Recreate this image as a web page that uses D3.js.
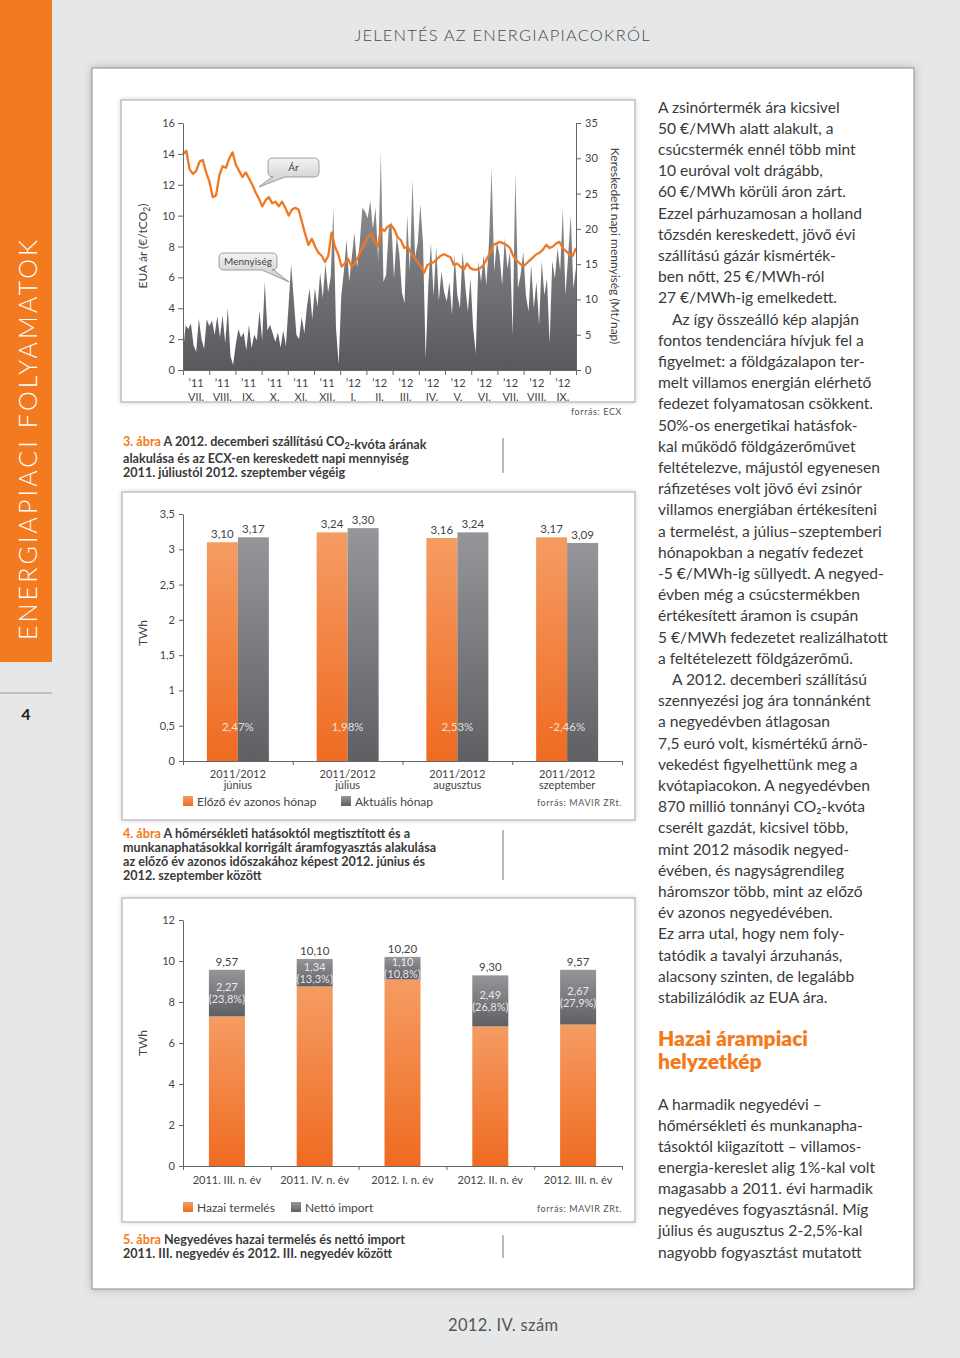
<!DOCTYPE html>
<html>
<head>
<meta charset="utf-8">
<script src="https://cdn.jsdelivr.net/npm/d3@7"></script>
<style>
  body { margin: 0; background: #e6e7e8; }
  svg { display: block; font-family: Lato, "Noto Sans", sans-serif; }
  .axis path, .axis line { stroke: #666; }
  .axis text { fill: #444; font-size: 11px; font-family: Lato, "Noto Sans", sans-serif; }
</style>
</head>
<body>
<svg id="page" width="960" height="1358"></svg>
<script>
// ---------- 3. ábra: EUA price and ECX daily volume ----------
var months = ["VII.", "VIII.", "IX.", "X.", "XI.", "XII.", "I.", "II.", "III.", "IV.", "V.", "VI.", "VII.", "VIII.", "IX."];
var monthYears = ["’11", "’11", "’11", "’11", "’11", "’11", "’12", "’12", "’12", "’12", "’12", "’12", "’12", "’12", "’12"];
var euaTicks = [0, 2, 4, 6, 8, 10, 12, 14, 16];
var volTicks = [0, 5, 10, 15, 20, 25, 30, 35];

// traded volume, Mt/nap (read roughly every other trading day)
var volumeByMonth = [
  [2.6, 6.3, 5.8, 6.6, 3.5, 2.6, 7.3, 4.4, 3.0, 7.2],
  [6.2, 7.0, 5.0, 7.6, 4.6, 7.8, 3.8, 8.8, 2.0, 0.7],
  [3.6, 5.8, 4.6, 5.3, 2.8, 6.4, 3.1, 5.0, 4.2, 8.4],
  [4.2, 12.5, 5.6, 6.4, 5.2, 4.0, 5.3, 3.2, 5.6, 3.4],
  [9.0, 15.0, 10.0, 5.0, 4.4, 7.5, 5.2, 9.0, 11.6, 7.2],
  [11.6, 9.0, 13.8, 10.2, 15.1, 11.0, 13.2, 23.0, 6.0, 0.8],
  [10.5, 14.0, 18.5, 12.5, 16.0, 19.5, 14.5, 18.0, 23.0, 22.5],
  [21.5, 24.0, 20.0, 23.0, 15.5, 31.0, 12.5, 13.5, 20.0, 21.0],
  [13.0, 19.0, 16.5, 11.0, 9.5, 22.0, 14.0, 27.0, 16.0, 18.0],
  [23.5, 18.0, 1.6, 12.0, 18.0, 10.5, 17.5, 9.8, 14.0, 11.0],
  [9.7, 12.5, 7.8, 16.3, 10.6, 8.8, 16.8, 12.0, 8.3, 13.0],
  [6.0, 2.4, 15.4, 12.5, 16.3, 12.0, 18.0, 28.6, 14.0, 18.2],
  [16.3, 12.0, 18.7, 14.4, 16.8, 5.0, 28.1, 11.6, 13.5, 16.8],
  [10.6, 8.3, 14.9, 8.8, 12.5, 6.4, 15.4, 10.6, 13.0, 3.8],
  [15.4, 13.0, 17.3, 14.0, 22.9, 10.6, 16.0, 22.0, 11.6, 14.5]
];

// EUA Dec-12 price, €/tCO2
var priceByMonth = [
  [14.0, 14.2, 13.0, 12.7, 12.9, 13.5, 13.6, 12.8],
  [12.2, 11.2, 11.3, 12.6, 13.2, 13.1, 13.7, 14.1],
  [13.3, 12.9, 12.5, 12.8, 12.4, 12.0, 11.5, 11.1],
  [10.6, 11.0, 11.2, 10.8, 10.9, 10.6, 10.9, 10.5],
  [10.0, 10.4, 10.5, 10.4, 9.6, 8.8, 8.1, 8.5],
  [8.0, 7.6, 7.4, 7.0, 7.4, 8.9, 8.0, 7.5],
  [6.7, 6.9, 7.2, 6.7, 6.9, 7.3, 7.8, 8.2],
  [8.6, 8.8, 8.3, 8.0, 9.2, 9.0, 9.3, 9.4],
  [9.1, 8.6, 8.4, 7.9, 8.0, 7.6, 7.3, 7.0],
  [6.7, 6.3, 6.8, 6.9, 7.0, 7.2, 7.4, 7.5],
  [7.4, 7.3, 6.8, 6.9, 6.7, 6.5, 6.9, 6.6],
  [6.5, 6.5, 6.6, 6.8, 7.2, 7.6, 8.1, 8.2],
  [8.3, 8.2, 8.1, 7.9, 7.4, 7.1, 6.9, 6.7],
  [6.9, 7.1, 7.3, 7.5, 7.6, 7.8, 8.1, 7.9],
  [8.0, 8.2, 8.3, 7.9, 7.7, 7.5, 7.4, 7.9]
];

// ---------- 4. ábra: monthly consumption ----------
var c4Prefix = "2011/2012";
var c4Months = ["június", "július", "augusztus", "szeptember"];
var c4Prev = [3.10, 3.24, 3.16, 3.17];
var c4Curr = [3.17, 3.30, 3.24, 3.09];
var c4Change = ["2,47%", "1,98%", "2,53%", "-2,46%"];
var c4Ticks = [0, 0.5, 1, 1.5, 2, 2.5, 3, 3.5];

// ---------- 5. ábra: quarterly production and net import ----------
var quarters = ["2011. III. n. év", "2011. IV. n. év", "2012. I. n. év", "2012. II. n. év", "2012. III. n. év"];
var domestic = [7.30, 8.76, 9.10, 6.81, 6.90];
var netImport = [2.27, 1.34, 1.10, 2.49, 2.67];
var importShare = ["23,8%", "13,3%", "10,8%", "26,8%", "27,9%"];
var c5Ticks = [0, 2, 4, 6, 8, 10, 12];

// ---------- right column text ----------
var bodyText1 = [
  "A zsinórtermék ára kicsivel", "50 €/MWh alatt alakult, a", "csúcstermék ennél több mint",
  "10 euróval volt drágább,", "60 €/MWh körüli áron zárt.", "Ezzel párhuzamosan a holland",
  "tőzsdén kereskedett, jövő évi", "szállítású gázár kismérték-", "ben nőtt, 25 €/MWh-ról",
  "27 €/MWh-ig emelkedett.", "\tAz így összeálló kép alapján", "fontos tendenciára hívjuk fel a",
  "figyelmet: a földgázalapon ter-", "melt villamos energián elérhető", "fedezet folyamatosan csökkent.",
  "50%-os energetikai hatásfok-", "kal működő földgázerőművet", "feltételezve, májustól egyenesen",
  "ráfizetéses volt jövő évi zsinór", "villamos energiában értékesíteni", "a termelést, a július–szeptemberi",
  "hónapokban a negatív fedezet", "-5 €/MWh-ig süllyedt. A negyed-", "évben még a csúcstermékben",
  "értékesített áramon is csupán", "5 €/MWh fedezetet realizálhatott", "a feltételezett földgázerőmű.",
  "\tA 2012. decemberi szállítású", "szennyezési jog ára tonnánként", "a negyedévben átlagosan",
  "7,5 euró volt, kismértékű árnö-", "vekedést figyelhettünk meg a", "kvótapiacokon. A negyedévben",
  "870 millió tonnányi CO₂-kvóta", "cserélt gazdát, kicsivel több,", "mint 2012 második negyed-",
  "évében, és nagyságrendileg", "háromszor több, mint az előző", "év azonos negyedévében.",
  "Ez arra utal, hogy nem foly-", "tatódik a tavalyi árzuhanás,", "alacsony szinten, de legalább",
  "stabilizálódik az EUA ára."
];
var headingText = ["Hazai árampiaci", "helyzetkép"];
var bodyText2 = [
  "A harmadik negyedévi –", "hőmérsékleti és munkanapha-", "tásoktól kiigazított – villamos-",
  "energia-kereslet alig 1%-kal volt", "magasabb a 2011. évi harmadik", "negyedéves fogyasztásnál. Míg",
  "július és augusztus 2-2,5%-kal", "nagyobb fogyasztást mutatott"
];

var ORANGE = "#f47a20";
var huLocale = d3.formatLocale({decimal: ",", thousands: " ", grouping: [3], currency: ["", " €"]});
var fmt2 = huLocale.format(".2f");
var fmtTick = huLocale.format("~g");

var svg = d3.select("#page");
var defs = svg.append("defs");

function vGrad(id, c0, c1) {
  var g = defs.append("linearGradient").attr("id", id)
    .attr("x1", 0).attr("y1", 0).attr("x2", 0).attr("y2", 1);
  g.append("stop").attr("offset", "0%").attr("stop-color", c0);
  g.append("stop").attr("offset", "100%").attr("stop-color", c1);
}
vGrad("orangeBar", "#f59c63", "#ef6b21");
vGrad("greyBar", "#959699", "#5f6063");
vGrad("volFill", "#9a9b9e", "#58595c");
vGrad("bubble", "#f3f3f3", "#c8c8c8");

var sh = defs.append("filter").attr("id", "panelShadow")
  .attr("x", "-5%").attr("y", "-5%").attr("width", "110%").attr("height", "110%");
sh.append("feDropShadow").attr("dx", 0).attr("dy", 0).attr("stdDeviation", 5)
  .attr("flood-color", "#000").attr("flood-opacity", 0.22);
var sh2 = defs.append("filter").attr("id", "boxShadow")
  .attr("x", "-5%").attr("y", "-5%").attr("width", "110%").attr("height", "110%");
sh2.append("feDropShadow").attr("dx", 0).attr("dy", 0).attr("stdDeviation", 2.5)
  .attr("flood-color", "#000").attr("flood-opacity", 0.18);

// ---------- page furniture ----------
svg.append("rect").attr("width", 960).attr("height", 1358).attr("fill", "#e6e7e8");
svg.append("rect").attr("x", 0).attr("y", 0).attr("width", 52).attr("height", 662).attr("fill", ORANGE);
svg.append("text")
  .attr("transform", "translate(37,440) rotate(-90)")
  .attr("text-anchor", "middle")
  .attr("fill", "#fff").attr("font-size", 25).attr("font-weight", 300)
  .attr("textLength", 400).attr("lengthAdjust", "spacing")
  .text("ENERGIAPIACI FOLYAMATOK");
svg.append("line").attr("x1", 0).attr("x2", 52).attr("y1", 693).attr("y2", 693)
  .attr("stroke", "#9b9b9b").attr("stroke-width", 1);
svg.append("text").attr("x", 26).attr("y", 720).attr("text-anchor", "middle")
  .attr("font-size", 16).attr("font-weight", 700).attr("fill", "#222").text("4");

svg.append("text").attr("x", 502).attr("y", 41).attr("text-anchor", "middle")
  .attr("font-size", 16.5).attr("fill", "#4a4a4a").attr("font-weight", 300)
  .attr("textLength", 295).attr("lengthAdjust", "spacing")
  .text("JELENTÉS AZ ENERGIAPIACOKRÓL");

svg.append("rect").attr("x", 92).attr("y", 68).attr("width", 822).attr("height", 1221)
  .attr("fill", "#fff").attr("stroke", "#8c8c8c").attr("filter", "url(#panelShadow)");

svg.append("text").attr("x", 503).attr("y", 1331).attr("text-anchor", "middle")
  .attr("font-size", 16.5).attr("fill", "#555")
  .attr("textLength", 110).attr("lengthAdjust", "spacing")
  .text("2012. IV. szám");

// chart frames
[[121, 100, 514, 302], [122, 492, 513, 328], [122, 898, 513, 324]].forEach(function(b) {
  svg.append("rect").attr("x", b[0]).attr("y", b[1]).attr("width", b[2]).attr("height", b[3])
    .attr("fill", "#fff").attr("stroke", "#a3a3a3").attr("filter", "url(#boxShadow)");
});

function styleAxis(g) {
  g.attr("class", "axis");
  g.selectAll("path").attr("stroke", "#666");
  g.selectAll("line").attr("stroke", "#666");
  return g;
}

function caption(x, y, lines, number) {
  var t = svg.append("text").attr("x", x).attr("y", y)
    .attr("font-size", 12.6).attr("font-weight", 700).attr("fill", "#3a3a3a");
  lines.forEach(function(line, i) {
    var ts = t.append("tspan").attr("x", x).attr("dy", i === 0 ? 0 : 14);
    if (i === 0) {
      ts.append("tspan").attr("fill", ORANGE).text(number + " ");
    }
    var parts = Array.isArray(line) ? line : [line];
    parts.forEach(function(part) {
      if (typeof part === "object") {
        ts.append("tspan").attr("dy", 3).attr("font-size", 9).text(part.sub);
        ts.append("tspan").attr("dy", -3).text("");
      } else {
        ts.append("tspan").text(part);
      }
    });
  });
}
function divider(y1, y2) {
  svg.append("line").attr("x1", 503).attr("x2", 503).attr("y1", y1).attr("y2", y2)
    .attr("stroke", "#777").attr("stroke-width", 1);
}

// ---------- chart 3 ----------
var c3 = svg.append("g");
var xM = d3.scaleLinear().domain([0, months.length]).range([183, 576]);
var yEua = d3.scaleLinear().domain([0, 16]).range([370, 123]);
var yVol = d3.scaleLinear().domain([0, 35]).range([370, 123]);
var volFlat = d3.merge(volumeByMonth);
var priceFlat = d3.merge(priceByMonth);
var xVol = d3.scaleLinear().domain([0, volFlat.length - 1]).range(xM.range());
var xPrice = d3.scaleLinear().domain([0, priceFlat.length - 1]).range(xM.range());

c3.append("path").datum(volFlat)
  .attr("d", d3.area().x(function(d, i) { return xVol(i); }).y0(yVol(0)).y1(function(d) { return yVol(d); }))
  .attr("fill", "url(#volFill)");
c3.append("path").datum(priceFlat)
  .attr("d", d3.line().x(function(d, i) { return xPrice(i); }).y(function(d) { return yEua(d); }))
  .attr("fill", "none").attr("stroke", "#f07822").attr("stroke-width", 2.3)
  .attr("stroke-linejoin", "round");

styleAxis(c3.append("g").attr("transform", "translate(183,0)")
  .call(d3.axisLeft(yEua).tickValues(euaTicks).tickSize(5).tickSizeOuter(0).tickPadding(3)));
styleAxis(c3.append("g").attr("transform", "translate(576,0)")
  .call(d3.axisRight(yVol).tickValues(volTicks).tickSize(5).tickSizeOuter(0).tickPadding(4)));
styleAxis(c3.append("g").attr("transform", "translate(0,370)")
  .call(d3.axisBottom(xM).tickValues(d3.range(0, months.length + 1)).tickSize(5).tickSizeOuter(0).tickFormat("")));

var ml = c3.append("g").attr("font-size", 11).attr("fill", "#444").attr("text-anchor", "middle")
  .selectAll("g").data(months).join("g")
  .attr("transform", function(d, i) { return "translate(" + xM(i + 0.5) + ",0)"; });
ml.append("text").attr("y", 387).text(function(d, i) { return monthYears[i]; });
ml.append("text").attr("y", 401).text(function(d) { return d; });

var leftTitle = c3.append("text").attr("transform", "translate(147,246) rotate(-90)")
  .attr("text-anchor", "middle").attr("font-size", 12).attr("fill", "#444");
leftTitle.append("tspan").text("EUA ár (€/tCO");
leftTitle.append("tspan").attr("font-size", 8.5).attr("dy", 3).text("2");
leftTitle.append("tspan").attr("dy", -3).text(")");

c3.append("text").attr("transform", "translate(611,246) rotate(90)")
  .attr("text-anchor", "middle").attr("font-size", 12).attr("fill", "#444")
  .text("Kereskedett napi mennyiség (Mt/nap)");

c3.append("text").attr("x", 622).attr("y", 415).attr("text-anchor", "end")
  .attr("font-size", 9).attr("letter-spacing", 0.6).attr("fill", "#555").text("forrás: ECX");

function bubble(x, y, w, h, b1, b2, tx, ty, label) {
  var r = 5;
  var p = "M" + (x + r) + "," + y + "H" + (x + w - r) + "Q" + (x + w) + "," + y + " " + (x + w) + "," + (y + r) +
    "V" + (y + h - r) + "Q" + (x + w) + "," + (y + h) + " " + (x + w - r) + "," + (y + h) +
    "H" + b2 + "L" + tx + "," + ty + "L" + b1 + "," + (y + h) +
    "H" + (x + r) + "Q" + x + "," + (y + h) + " " + x + "," + (y + h - r) +
    "V" + (y + r) + "Q" + x + "," + y + " " + (x + r) + "," + y + "Z";
  c3.append("path").attr("d", p).attr("fill", "url(#bubble)").attr("stroke", "#8a8a8a").attr("stroke-width", 0.8);
  c3.append("text").attr("x", x + w / 2).attr("y", y + h / 2 + 3.5).attr("text-anchor", "middle")
    .attr("font-size", 10).attr("fill", "#444").text(label);
}
bubble(268, 158, 51, 19, 272, 285, 259, 187, "Ár");
bubble(219, 253, 58, 17, 262, 274, 289, 282, "Mennyiség");

caption(123, 446, [
  ["A 2012. decemberi szállítású CO", {sub: "2"}, "-kvóta árának"],
  "alakulása és az ECX-en kereskedett napi mennyiség",
  "2011. júliustól 2012. szeptember végéig"
], "3. ábra");
divider(438, 473);

// ---------- chart 4 ----------
var c4 = svg.append("g");
var x4 = d3.scaleBand().domain(c4Months).range([183, 622]);
var x4s = d3.scaleBand().domain([0, 1]).range([0, x4.bandwidth()]).paddingOuter(0.77);
var x4Ticks = d3.scaleLinear().domain([0, c4Months.length]).range(x4.range());
var y4 = d3.scaleLinear().domain([0, 3.5]).range([761, 514]);

var groups4 = c4.selectAll("g.grp").data(c4Months).join("g").attr("class", "grp")
  .attr("transform", function(d) { return "translate(" + x4(d) + ",0)"; });
groups4.each(function(d, i) {
  var g = d3.select(this);
  var vals = [c4Prev[i], c4Curr[i]];
  g.selectAll("rect").data(vals).join("rect")
    .attr("x", function(v, j) { return x4s(j); })
    .attr("width", x4s.bandwidth())
    .attr("y", function(v) { return y4(v); })
    .attr("height", function(v) { return y4(0) - y4(v); })
    .attr("fill", function(v, j) { return j === 0 ? "url(#orangeBar)" : "url(#greyBar)"; });
  g.selectAll("text.val").data(vals).join("text").attr("class", "val")
    .attr("x", function(v, j) { return x4s(j) + x4s.bandwidth() / 2; })
    .attr("y", function(v) { return y4(v) - 4; })
    .attr("text-anchor", "middle").attr("font-size", 11.5).attr("fill", "#444")
    .text(function(v) { return fmt2(v); });
  g.append("text").attr("x", x4.bandwidth() / 2).attr("y", y4(0.5) + 5)
    .attr("text-anchor", "middle").attr("font-size", 11.5).attr("fill", "#fff").attr("fill-opacity", 0.8)
    .text(c4Change[i]);
  g.append("text").attr("x", x4.bandwidth() / 2).attr("y", 778)
    .attr("text-anchor", "middle").attr("font-size", 11).attr("fill", "#444").text(c4Prefix);
  g.append("text").attr("x", x4.bandwidth() / 2).attr("y", 789)
    .attr("text-anchor", "middle").attr("font-size", 11).attr("fill", "#444").text(d);
});

styleAxis(c4.append("g").attr("transform", "translate(183,0)")
  .call(d3.axisLeft(y4).tickValues(c4Ticks).tickSize(4).tickSizeOuter(0).tickPadding(4).tickFormat(fmtTick)));
styleAxis(c4.append("g").attr("transform", "translate(0,761)")
  .call(d3.axisBottom(x4Ticks).tickValues(d3.range(0, c4Months.length + 1)).tickSize(4).tickSizeOuter(0).tickFormat("")));
c4.append("text").attr("transform", "translate(147,633) rotate(-90)")
  .attr("text-anchor", "middle").attr("font-size", 12).attr("fill", "#444").text("TWh");

function legend(g, y, items) {
  items.forEach(function(it) {
    g.append("rect").attr("x", it.x).attr("y", y - 10).attr("width", 10).attr("height", 10).attr("fill", it.fill);
    g.append("text").attr("x", it.x + 14).attr("y", y).attr("font-size", 12).attr("fill", "#444").text(it.label);
  });
  g.append("text").attr("x", 622).attr("y", y).attr("text-anchor", "end")
    .attr("font-size", 9).attr("letter-spacing", 0.6).attr("fill", "#555").text("forrás: MAVIR ZRt.");
}
legend(c4, 806, [
  {x: 183, fill: "url(#orangeBar)", label: "Előző év azonos hónap"},
  {x: 341, fill: "url(#greyBar)", label: "Aktuális hónap"}
]);

caption(123, 838, [
  "A hőmérsékleti hatásoktól megtisztított és a",
  "munkanaphatásokkal korrigált áramfogyasztás alakulása",
  "az előző év azonos időszakához képest 2012. június és",
  "2012. szeptember között"
], "4. ábra");
divider(830, 880);

// ---------- chart 5 ----------
var c5 = svg.append("g");
var x5 = d3.scaleBand().domain(quarters).range([183, 622]).paddingInner(0.59).paddingOuter(0.295);
var x5Ticks = d3.scaleLinear().domain([0, quarters.length]).range([183, 622]);
var y5 = d3.scaleLinear().domain([0, 12]).range([1166, 920]);

var bars5 = c5.selectAll("g.q").data(quarters).join("g").attr("class", "q")
  .attr("transform", function(d) { return "translate(" + x5(d) + ",0)"; });
bars5.append("rect").attr("width", x5.bandwidth())
  .attr("y", function(d, i) { return y5(domestic[i]); })
  .attr("height", function(d, i) { return y5(0) - y5(domestic[i]); })
  .attr("fill", "url(#orangeBar)");
bars5.append("rect").attr("width", x5.bandwidth())
  .attr("y", function(d, i) { return y5(domestic[i] + netImport[i]); })
  .attr("height", function(d, i) { return y5(domestic[i]) - y5(domestic[i] + netImport[i]); })
  .attr("fill", "url(#greyBar)");
bars5.append("text").attr("x", x5.bandwidth() / 2)
  .attr("y", function(d, i) { return y5(domestic[i] + netImport[i]) - 4; })
  .attr("text-anchor", "middle").attr("font-size", 11.5).attr("fill", "#444")
  .text(function(d, i) { return fmt2(domestic[i] + netImport[i]); });
var impLbl = bars5.append("text").attr("text-anchor", "middle").attr("font-size", 11)
  .attr("fill", "#fff").attr("fill-opacity", 0.85)
  .attr("y", function(d, i) { return (y5(domestic[i]) + y5(domestic[i] + netImport[i])) / 2 - 2; });
impLbl.append("tspan").attr("x", x5.bandwidth() / 2).text(function(d, i) { return fmt2(netImport[i]); });
impLbl.append("tspan").attr("x", x5.bandwidth() / 2).attr("dy", 12)
  .text(function(d, i) { return "(" + importShare[i] + ")"; });
bars5.append("text").attr("x", x5.bandwidth() / 2).attr("y", 1184)
  .attr("text-anchor", "middle").attr("font-size", 11).attr("fill", "#444")
  .text(function(d) { return d; });

styleAxis(c5.append("g").attr("transform", "translate(183,0)")
  .call(d3.axisLeft(y5).tickValues(c5Ticks).tickSize(4).tickSizeOuter(0).tickPadding(4).tickFormat(fmtTick)));
styleAxis(c5.append("g").attr("transform", "translate(0,1166)")
  .call(d3.axisBottom(x5Ticks).tickValues(d3.range(0, quarters.length + 1)).tickSize(4).tickSizeOuter(0).tickFormat("")));
c5.append("text").attr("transform", "translate(147,1043) rotate(-90)")
  .attr("text-anchor", "middle").attr("font-size", 12).attr("fill", "#444").text("TWh");

legend(c5, 1212, [
  {x: 183, fill: "url(#orangeBar)", label: "Hazai termelés"},
  {x: 291, fill: "url(#greyBar)", label: "Nettó import"}
]);

caption(123, 1244, [
  "Negyedéves hazai termelés és nettó import",
  "2011. III. negyedév és 2012. III. negyedév között"
], "5. ábra");
divider(1235, 1258);

// ---------- right column ----------
function textBlock(lines, y0, step, size, weight, color) {
  svg.append("g").selectAll("text").data(lines).join("text")
    .attr("x", function(d) { return d.charAt(0) === "\t" ? 672 : 658; })
    .attr("y", function(d, i) { return y0 + i * step; })
    .attr("font-size", size).attr("font-weight", weight).attr("fill", color)
    .text(function(d) { return d.replace("\t", ""); });
}
textBlock(bodyText1, 112.5, 21.2, 15.6, 400, "#3a3a3a");
textBlock(headingText, 1046, 23, 21, 800, ORANGE);
textBlock(bodyText2, 1109.5, 21.15, 15.6, 400, "#3a3a3a");
</script>
</body>
</html>
